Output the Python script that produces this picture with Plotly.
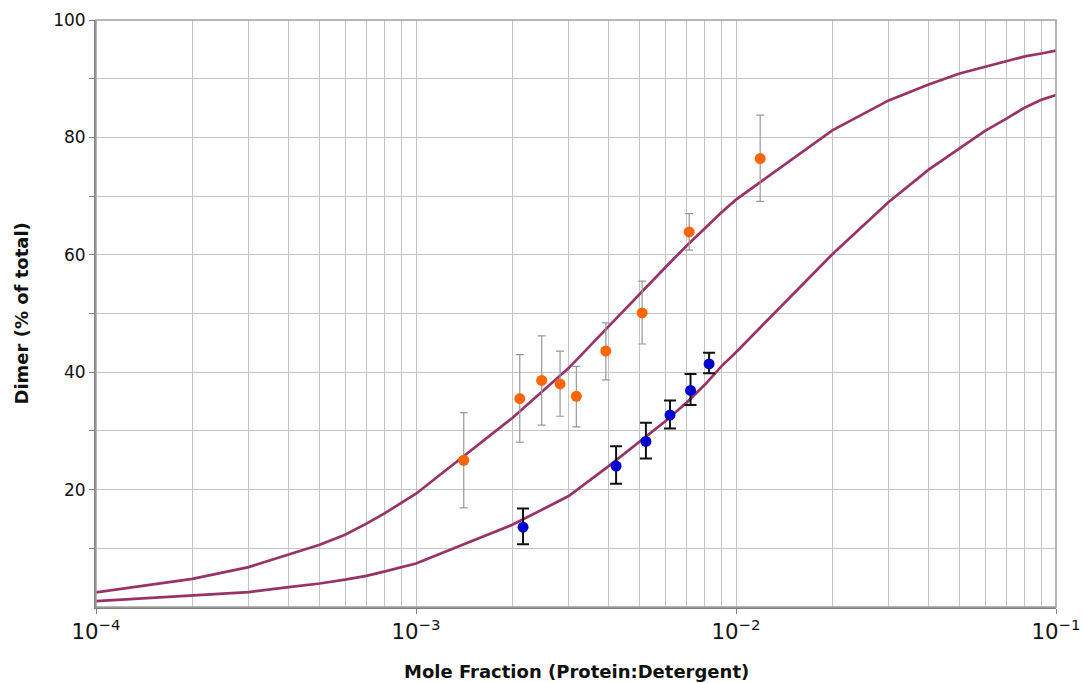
import plotly.graph_objects as go

# Fit curves (x = mole fraction, y = % dimer)
curve_x = [1e-4, 2e-4, 3e-4, 4e-4, 5e-4, 6e-4, 7e-4, 8e-4, 9e-4,
           1e-3, 2e-3, 3e-3, 4e-3, 5e-3, 6e-3, 7e-3, 8e-3, 9e-3,
           1e-2, 2e-2, 3e-2, 4e-2, 5e-2, 6e-2, 7e-2, 8e-2, 9e-2,
           1e-1]
upper_curve = [2.5, 4.8, 6.8, 8.9, 10.6, 12.3, 14.2, 16.0, 17.7,
               19.3, 32.2, 40.7, 47.8, 53.4, 57.8, 61.5, 64.6, 67.2,
               69.4, 81.2, 86.3, 89.0, 90.9, 92.0, 93.0, 93.8, 94.3,
               94.8]
lower_curve = [1.0, 1.9, 2.55, 3.4, 4.0, 4.65, 5.3, 6.07, 6.8,
               7.4, 14.0, 18.9, 24.0, 28.1, 31.6, 34.8, 37.9, 41.0,
               43.4, 60.1, 69.0, 74.5, 78.2, 81.1, 83.2, 85.1, 86.4,
               87.2]

# Orange data
orange_x = [1.41e-3, 2.11e-3, 2.47e-3, 2.82e-3, 3.17e-3, 3.92e-3, 5.09e-3, 7.14e-3, 1.19e-2]
orange_y = [25.0, 35.5, 38.6, 38.0, 35.9, 43.6, 50.1, 63.9, 76.4]
orange_hi = [33.1, 43.0, 46.2, 43.6, 41.0, 48.4, 55.5, 67.0, 83.8]
orange_lo = [16.9, 28.1, 31.0, 32.5, 30.7, 38.7, 44.8, 60.8, 69.1]

# Blue data
blue_x = [2.16e-3, 4.22e-3, 5.23e-3, 6.22e-3, 7.21e-3, 8.24e-3]
blue_y = [13.6, 24.0, 28.2, 32.7, 36.9, 41.4]
blue_hi = [16.8, 27.4, 31.4, 35.2, 39.7, 43.3]
blue_lo = [10.7, 21.0, 25.3, 30.4, 34.4, 39.8]

y_ticks = [20, 40, 60, 80, 100]
y_minor_ticks = [10, 30, 50, 70, 90]

CURVE = "#993366"
GRID = "#c4c4c4"
FONT = "DejaVu Sans, Verdana, sans-serif"

fig = go.Figure()
fig.add_trace(go.Scatter(x=curve_x, y=upper_curve, mode="lines",
                         line=dict(color=CURVE, width=2.7), showlegend=False))
fig.add_trace(go.Scatter(x=curve_x, y=lower_curve, mode="lines",
                         line=dict(color=CURVE, width=2.7), showlegend=False))
fig.add_trace(go.Scatter(
    x=orange_x, y=orange_y, mode="markers",
    marker=dict(color="#FF6600", size=11),
    error_y=dict(type="data", symmetric=False,
                 array=[h - v for h, v in zip(orange_hi, orange_y)],
                 arrayminus=[v - l for l, v in zip(orange_lo, orange_y)],
                 color="#999999", thickness=1.2, width=4),
    showlegend=False))
fig.add_trace(go.Scatter(
    x=blue_x, y=blue_y, mode="markers",
    marker=dict(color="#0000CC", size=11),
    error_y=dict(type="data", symmetric=False,
                 array=[h - v for h, v in zip(blue_hi, blue_y)],
                 arrayminus=[v - l for l, v in zip(blue_lo, blue_y)],
                 color="#111111", thickness=2, width=6),
    showlegend=False))

fig.update_layout(
    width=1084, height=683,
    margin=dict(l=96, r=28, t=20, b=76),
    paper_bgcolor="white", plot_bgcolor="white",
    font=dict(family=FONT, size=17, color="#111111"),
    xaxis=dict(type="log", range=[-4, -1], dtick=1, exponentformat="power",
               automargin=False,
               showgrid=True, gridcolor=GRID, gridwidth=1,
               minor=dict(dtick="D1", showgrid=True, gridcolor=GRID, gridwidth=1,
                          ticks=""),
               ticks="outside", ticklen=5, tickcolor="#808080",
               showline=True, linecolor="#808080", linewidth=2, mirror=False,
               zeroline=False, tickfont=dict(size=17)),
    yaxis=dict(range=[0, 100], tickvals=y_ticks, automargin=False,
               showgrid=True, gridcolor=GRID, gridwidth=1,
               minor=dict(tickvals=y_minor_ticks, showgrid=True, gridcolor=GRID,
                          gridwidth=1, ticks="outside", ticklen=5, tickcolor="#808080"),
               ticks="outside", ticklen=5, tickcolor="#808080",
               showline=True, linecolor="#808080", linewidth=2,
               zeroline=False, tickfont=dict(size=17)),
    shapes=[dict(type="rect", xref="paper", yref="paper", x0=0, y0=0, x1=1, y1=1,
                 line=dict(color="#a0a0a0", width=1.5), layer="above")],
    annotations=[
        dict(text="<b>Mole Fraction (Protein:Detergent)</b>", xref="paper", yref="paper",
             x=0.5, y=0, yshift=-64, xanchor="center", yanchor="middle",
             showarrow=False, font=dict(size=18, family=FONT)),
        dict(text="<b>Dimer (% of total)</b>", xref="paper", yref="paper",
             x=0, xshift=-75, y=0.5, xanchor="center", yanchor="middle", textangle=-90,
             showarrow=False, font=dict(size=18, family=FONT)),
    ],
)

fig.write_html("out.html")
